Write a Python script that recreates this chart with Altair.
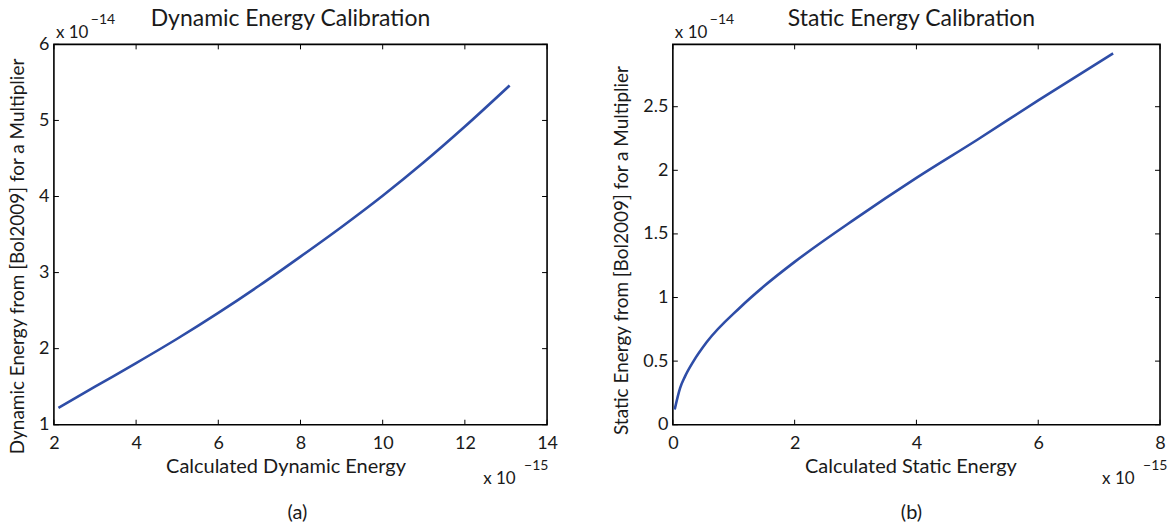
import altair as alt
import pandas as pd

# ---- data ----
dyn_x = [2.11, 3.0, 4.0, 5.0, 6.0, 7.0, 8.0, 9.0, 10.0, 11.0, 12.0, 13.09]
dyn_y = [1.22, 1.50, 1.81, 2.13, 2.47, 2.83, 3.21, 3.60, 4.01, 4.45, 4.92, 5.46]

sta_x = [0.03, 0.12, 0.2, 0.34, 0.557, 1.10, 1.5, 2.0, 3.0, 4.0, 5.0, 6.0, 7.23]
sta_y = [0.12, 0.29, 0.38, 0.50, 0.65, 0.92, 1.09, 1.28, 1.62, 1.94, 2.24, 2.55, 2.92]

dyn_xticks = [2, 4, 6, 8, 10, 12, 14]
dyn_yticks = [1, 2, 3, 4, 5, 6]
sta_xticks = [0, 2, 4, 6, 8]
sta_yticks = [0, 0.5, 1, 1.5, 2, 2.5]

FONT = "Lato"
LINE_COLOR = "#2E4DA7"
TEXT_COLOR = "#1a1a1a"
H = 381


def txt(s, x, y, size=19, align="left", baseline="alphabetic"):
    return alt.Chart(pd.DataFrame({"s": [s]})).mark_text(
        align=align, baseline=baseline, font=FONT, fontSize=size, color=TEXT_COLOR
    ).encode(text="s:N", x=alt.value(x), y=alt.value(y))


def anchor(x, y):
    # invisible point fixing the page corners for the autosize
    return alt.Chart(pd.DataFrame({"a": [0]})).mark_point(
        opacity=0, size=0.01, filled=True
    ).encode(x=alt.value(x), y=alt.value(y))


def panel(xs, ys, xticks, yticks, xdom, ydom, W, xtitle, ytitle, xtitle_x,
          ytitle_x, ytitle_y, title, title_x, sub, sub_x, exp_top, exp_bot,
          corner):
    xscale = alt.Scale(domain=xdom, nice=False, zero=False)
    yscale = alt.Scale(domain=ydom, nice=False, zero=False)
    df = pd.DataFrame({"x": xs, "y": ys})
    line = alt.Chart(df).mark_line(
        color=LINE_COLOR, strokeWidth=2.6, interpolate="monotone"
    ).encode(
        x=alt.X("x:Q", scale=xscale, axis=alt.Axis(
            values=xticks, format="~g", ticks=False, domain=False, grid=False,
            labelFlush=False, labelOverlap=False, labelPadding=10,
            labelFontSize=18, labelFont=FONT, labelColor=TEXT_COLOR,
            title=xtitle, titleFont=FONT, titleFontSize=20,
            titleFontWeight="normal", titleColor=TEXT_COLOR,
            titleX=xtitle_x, titleY=48, titleAlign="center",
            titleBaseline="alphabetic")),
        y=alt.Y("y:Q", scale=yscale, axis=alt.Axis(
            values=yticks, format="~g", ticks=False, domain=False,
            grid=False, labelFlush=False, labelOverlap=False,
            labelPadding=5, labelFontSize=18, labelFont=FONT,
            labelColor=TEXT_COLOR,
            title=ytitle, titleFont=FONT, titleFontSize=19,
            titleFontWeight="normal", titleColor=TEXT_COLOR,
            titleX=ytitle_x, titleY=ytitle_y, titleAlign="center",
            titleAngle=270, titleBaseline="alphabetic")),
    )
    tx = pd.DataFrame({"t": xticks})
    ty = pd.DataFrame({"t": yticks})
    xb = alt.Chart(tx).mark_rule(color="black", strokeWidth=1).encode(
        x=alt.X("t:Q", scale=xscale), y=alt.value(H), y2=alt.value(H - 5))
    xt = alt.Chart(tx).mark_rule(color="black", strokeWidth=1).encode(
        x=alt.X("t:Q", scale=xscale), y=alt.value(0), y2=alt.value(5))
    yl = alt.Chart(ty).mark_rule(color="black", strokeWidth=1).encode(
        y=alt.Y("t:Q", scale=yscale), x=alt.value(0), x2=alt.value(5))
    yr = alt.Chart(ty).mark_rule(color="black", strokeWidth=1).encode(
        y=alt.Y("t:Q", scale=yscale), x=alt.value(W), x2=alt.value(W - 5))

    layers = [line, xb, xt, yl, yr,
              txt(title, title_x, -18, size=23, align="center"),
              txt("x 10", 2, -6, size=17),
              txt(exp_top, 37, -20, size=14),
              txt("x 10", 430, H + 59, size=17),
              txt(exp_bot, 471, H + 45, size=14),
              txt(sub, sub_x, 475, size=20, align="center"),
              anchor(*corner)]
    return alt.layer(*layers).properties(width=W, height=H)


left = panel(dyn_x, dyn_y, dyn_xticks, dyn_yticks, [2, 14], [1, 6], 494,
             "Calculated Dynamic Energy",
             "Dynamic Energy from [Bol2009] for a Multiplier",
             232, -30, 212, "Dynamic Energy Calibration", 237, "(a)", 244,
             "\u221214", "\u221215", (-53, -43))
right = panel(sta_x, sta_y, sta_xticks, sta_yticks, [0, 8], [0, 2.99], 488,
              "Calculated Static Energy",
              "Static Energy from [Bol2009] for a Multiplier",
              238, -45, 206, "Static Energy Calibration", 239, "(b)", 239,
              "\u221214", "\u221215", (488 + 10, H + 100))

chart = alt.hconcat(left, right, spacing=126, bounds="flush").properties(
    autosize=alt.AutoSizeParams(type="pad"),
    padding=0,
    background="white",
).configure_view(stroke="#000000", strokeWidth=1.6)

chart.save("out.html", embed_options={"renderer": "svg", "actions": False})
